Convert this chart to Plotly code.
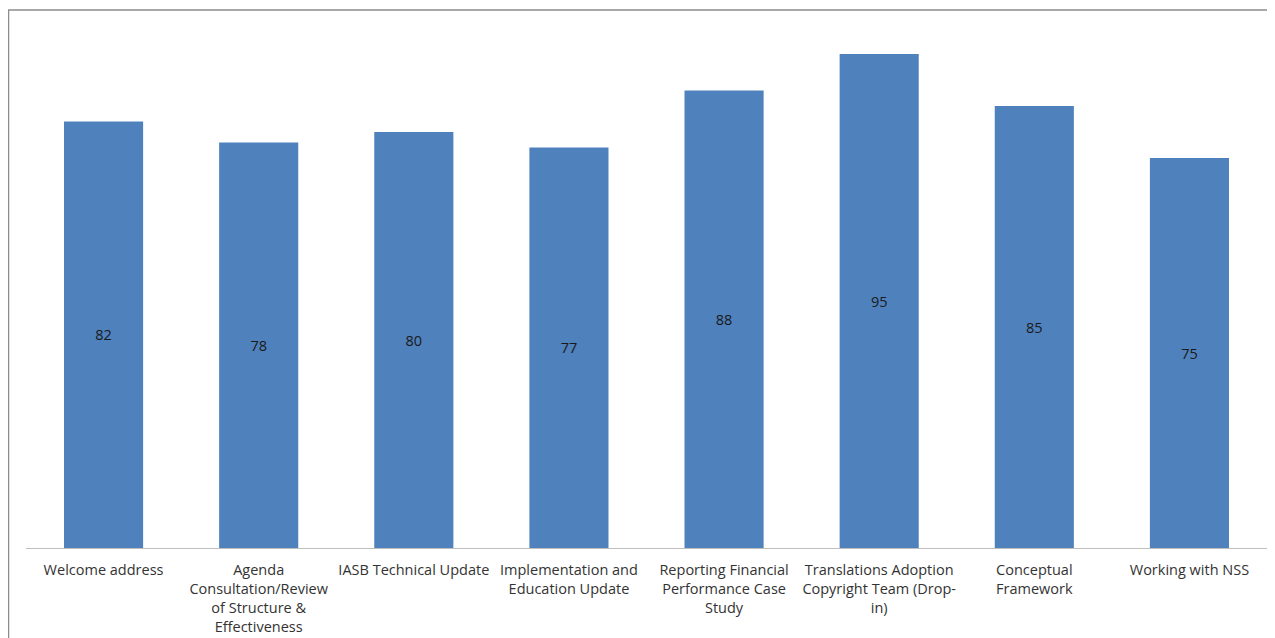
import plotly.graph_objects as go

categories = [
    "Welcome address",
    "Agenda<br>Consultation/Review<br>of Structure &<br>Effectiveness",
    "IASB Technical Update",
    "Implementation and<br>Education Update",
    "Reporting Financial<br>Performance Case<br>Study",
    "Translations Adoption<br>Copyright Team (Drop-<br>in)",
    "Conceptual<br>Framework",
    "Working with NSS",
]
values = [82, 78, 80, 77, 88, 95, 85, 75]

# page body adds an 8px offset, so the figure is sized to compensate
W, H = 1267, 630
ml, mr, mt, mb = 18, 8, 20, 90
pw = W - ml - mr
ph = H - mt - mb

fig = go.Figure(go.Bar(
    x=categories,
    y=values,
    marker=dict(color="#4F81BD", line=dict(width=0)),
    width=0.51,
    text=[str(v) for v in values],
    textposition="inside",
    insidetextanchor="middle",
    textangle=0,
    textfont=dict(family="Open Sans", size=14.5, color="#1a1a1a"),
    hoverinfo="skip",
))

# outer chart frame
fx0 = (0.5 - ml) / pw
fy1 = (H - mb - 2) / ph
fig.add_shape(type="rect", xref="paper", yref="paper",
              x0=fx0, x1=1.2, y0=-0.5, y1=fy1,
              line=dict(color="#8c8c8c", width=1.5), layer="below")

fig.update_layout(
    width=W, height=H,
    margin=dict(l=ml, r=mr, t=mt, b=mb),
    paper_bgcolor="white",
    plot_bgcolor="white",
    showlegend=False,
    xaxis=dict(showline=True, linecolor="#BFBFBF", linewidth=1,
               ticks="", showgrid=False, ticklabelstandoff=9,
               automargin=False,
               tickfont=dict(family="Open Sans", size=14.5, color="#333333"),
               tickangle=0),
    yaxis=dict(range=[0, 100], visible=False, showgrid=False,
               automargin=False),
)

fig.write_html("out.html")
